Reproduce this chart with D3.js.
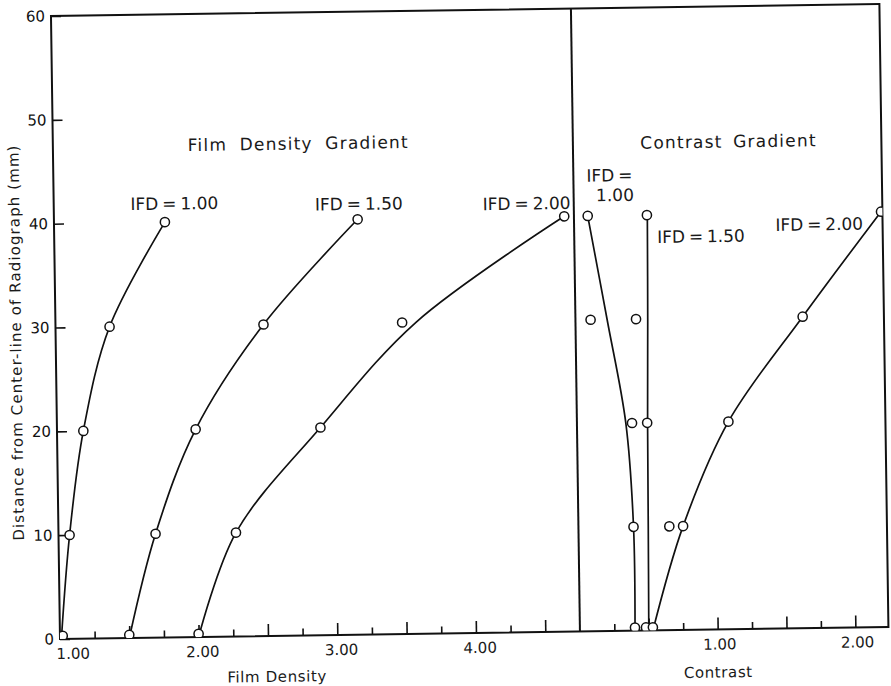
<!DOCTYPE html>
<html>
<head>
<meta charset="utf-8">
<script src="https://cdn.jsdelivr.net/npm/d3@7"></script>
<style>
  body { margin: 0; background: #fff; }
  svg text { font-family: "DejaVu Sans", sans-serif; fill: #1a1a1a; }
</style>
</head>
<body>
<div id="chart"></div>
<script>
// tick values
var yTicks = [0, 10, 20, 30, 40, 50, 60];
var densityMinorTicks = [1.25, 1.75, 2.25, 2.75, 3.25, 3.75, 4.25];
var densityMajorTicks = [1.5, 2, 2.5, 3, 3.5, 4, 4.5];
var densityLabels = [1, 2, 3, 4];
var contrastMinorTicks = [0.25, 0.75, 1.25, 1.75];
var contrastMajorTicks = [0.5, 1, 1.5, 2];
var contrastLabels = [1, 2];

// distance (mm) of the measured points and of the drawn curves
var pointDistance = [0.3, 10, 20, 30, 40];
var curveDistance = [0, 10, 20, 30, 40];

// film density, measured points / faired curves
var densityPoints100 = [1.02, 1.08, 1.19, 1.39, 1.80];
var densityPoints150 = [1.50, 1.70, 2.00, 2.50, 3.19];
var densityPoints200 = [2.00, 2.28, 2.90, 3.50, 4.68];
var densityCurve100 = [1.01, 1.08, 1.19, 1.39, 1.80];
var densityCurve150 = [1.50, 1.70, 2.00, 2.50, 3.19];
var densityCurve200 = [2.00, 2.28, 2.90, 3.60, 4.68];

// contrast, measured points / faired curves
var contrastPoints100 = [0.40, 0.40, 0.40, 0.11, 0.10];
var contrastPoints150 = [0.48, 0.66, 0.51, 0.44, 0.53];
var contrastPoints200 = [0.53, 0.76, 1.10, 1.65, 2.23];
var contrastCurve100 = [0.40, 0.40, 0.355, 0.23, 0.10];
var contrastCurve150 = [0.50, 0.507, 0.513, 0.525, 0.533];
var contrastCurve200 = [0.53, 0.76, 1.10, 1.65, 2.23];

var ifdNames = ["1.00", "1.50", "2.00"];

var width = 891, height = 686;
var ink = "#111";

var y = d3.scaleLinear().domain([0, 60]).range([633, 10]);
var xd = d3.scaleLinear().domain([1, 4.75]).range([55.5, 575.5]);
var xc = d3.scaleLinear().domain([0, 2.24]).range([575.5, 884]);

var svg = d3.select("#chart").append("svg")
    .attr("width", width)
    .attr("height", height);

// the original scan sits a little crooked
var g = svg.append("g").attr("transform", "rotate(-0.83 470 325)");

g.append("clipPath").attr("id", "plot-clip")
  .append("rect")
    .attr("x", xd(1))
    .attr("y", y(60))
    .attr("width", xc(2.24) - xd(1))
    .attr("height", y(0) - y(60));

// frame + divider
var frame = g.append("g").attr("class", "frame")
    .style("stroke", ink).style("fill", "none");
frame.append("rect")
    .attr("x", xd(1))
    .attr("y", y(60))
    .attr("width", xc(2.24) - xd(1))
    .attr("height", y(0) - y(60))
    .style("stroke-width", 2);
frame.append("line")
    .attr("x1", xd(4.75)).attr("x2", xd(4.75))
    .attr("y1", y(60)).attr("y2", y(0))
    .style("stroke-width", 2);

var fmt = d3.format(".2f");

// y axis
var yAxis = d3.axisLeft(y).tickValues(yTicks).tickSize(-10).tickPadding(6).tickFormat(d3.format("d"));
g.append("g").attr("class", "y axis")
    .attr("transform", "translate(" + xd(1) + ",0)")
    .call(yAxis)
    .call(function(s) {
      s.select(".domain").remove();
      s.selectAll("line").style("stroke", ink).style("stroke-width", 1.6);
      s.selectAll("text").style("font-size", "15px").style("fill", ink);
    });

function bottomTicks(scale, values, size) {
  var ax = d3.axisBottom(scale).tickValues(values).tickSize(-size)
      .tickFormat(function() { return ""; });
  g.append("g").attr("class", "x axis")
      .attr("transform", "translate(0," + y(0) + ")")
      .call(ax)
      .call(function(s) {
        s.select(".domain").remove();
        s.selectAll("line").style("stroke", ink).style("stroke-width", 1.6);
      });
}
bottomTicks(xd, densityMinorTicks, 7);
bottomTicks(xd, densityMajorTicks, 12);
bottomTicks(xc, contrastMinorTicks, 7);
bottomTicks(xc, contrastMajorTicks, 12);

var tickLabels = g.append("g").attr("class", "tick-labels");
tickLabels.selectAll(".dl").data(densityLabels).enter().append("text")
    .attr("x", function(d, i) { return xd(d) + (i === 0 ? 13 : 4); })
    .attr("y", y(0) + 20)
    .attr("text-anchor", "middle")
    .style("font-size", "15px")
    .text(fmt);
tickLabels.selectAll(".cl").data(contrastLabels).enter().append("text")
    .attr("x", function(d) { return xc(d) + 2; })
    .attr("y", y(0) + 20)
    .attr("text-anchor", "middle")
    .style("font-size", "15px")
    .text(fmt);

// axis titles
g.append("text")
    .attr("x", 272).attr("y", 679)
    .attr("text-anchor", "middle")
    .style("font-size", "15px").style("letter-spacing", "0.6px")
    .text("Film Density");
g.append("text")
    .attr("x", xc(1)).attr("y", 681)
    .attr("text-anchor", "middle")
    .style("font-size", "15px").style("letter-spacing", "0.6px")
    .text("Contrast");
g.append("text")
    .attr("transform", "translate(21,336) rotate(-90)")
    .attr("text-anchor", "middle")
    .style("font-size", "15px").style("letter-spacing", "1.1px")
    .text("Distance from Center-line of Radiograph (mm)");

// curves and points
var plot = g.append("g").attr("clip-path", "url(#plot-clip)");

function series(scale, curveX, pointX) {
  var line = d3.line()
      .x(function(d) { return scale(d[0]); })
      .y(function(d) { return y(d[1]); })
      .curve(d3.curveCatmullRom.alpha(0.5));
  plot.append("path")
      .datum(d3.zip(curveX, curveDistance))
      .attr("d", line)
      .style("fill", "none")
      .style("stroke", ink)
      .style("stroke-width", 1.7);
  plot.selectAll(null)
      .data(d3.zip(pointX, pointDistance))
      .enter().append("circle")
      .attr("cx", function(d) { return scale(d[0]); })
      .attr("cy", function(d) { return y(d[1]); })
      .attr("r", 4.6)
      .style("fill", "#fff")
      .style("stroke", ink)
      .style("stroke-width", 1.5);
}
series(xd, densityCurve100, densityPoints100);
series(xd, densityCurve150, densityPoints150);
series(xd, densityCurve200, densityPoints200);
series(xc, contrastCurve100, contrastPoints100);
series(xc, contrastCurve150, contrastPoints150);
series(xc, contrastCurve200, contrastPoints200);

// panel titles and curve labels
function label(x, yy, txt, size, spacing, words) {
  g.append("text")
      .attr("x", x).attr("y", yy)
      .attr("text-anchor", "middle")
      .style("font-size", size + "px")
      .style("letter-spacing", spacing + "px")
      .style("word-spacing", words + "px")
      .text(txt);
}
label(xd(2.77), y(46.8), "Film Density Gradient", 17, 1.2, 6);
label(xc(1.13), y(46.4), "Contrast Gradient", 17, 1.2, 4);

label(xd(1.87), y(41.2), "IFD = " + ifdNames[0], 17, 0, -1.5);
label(xd(3.20), y(40.9), "IFD = " + ifdNames[1], 17, 0, -1.5);
label(xd(4.41), y(40.7), "IFD = " + ifdNames[2], 17, 0, -1.5);

label(xc(0.262), y(43.3), "IFD =", 17, 0, -1.5);
label(xc(0.30), y(41.4), ifdNames[0], 17, 0, 0);
label(xc(0.92), y(37.3), "IFD = " + ifdNames[1], 17, 0, -1.5);
label(xc(1.78), y(38.3), "IFD = " + ifdNames[2], 17, 0, -1.5);
</script>
</body>
</html>
